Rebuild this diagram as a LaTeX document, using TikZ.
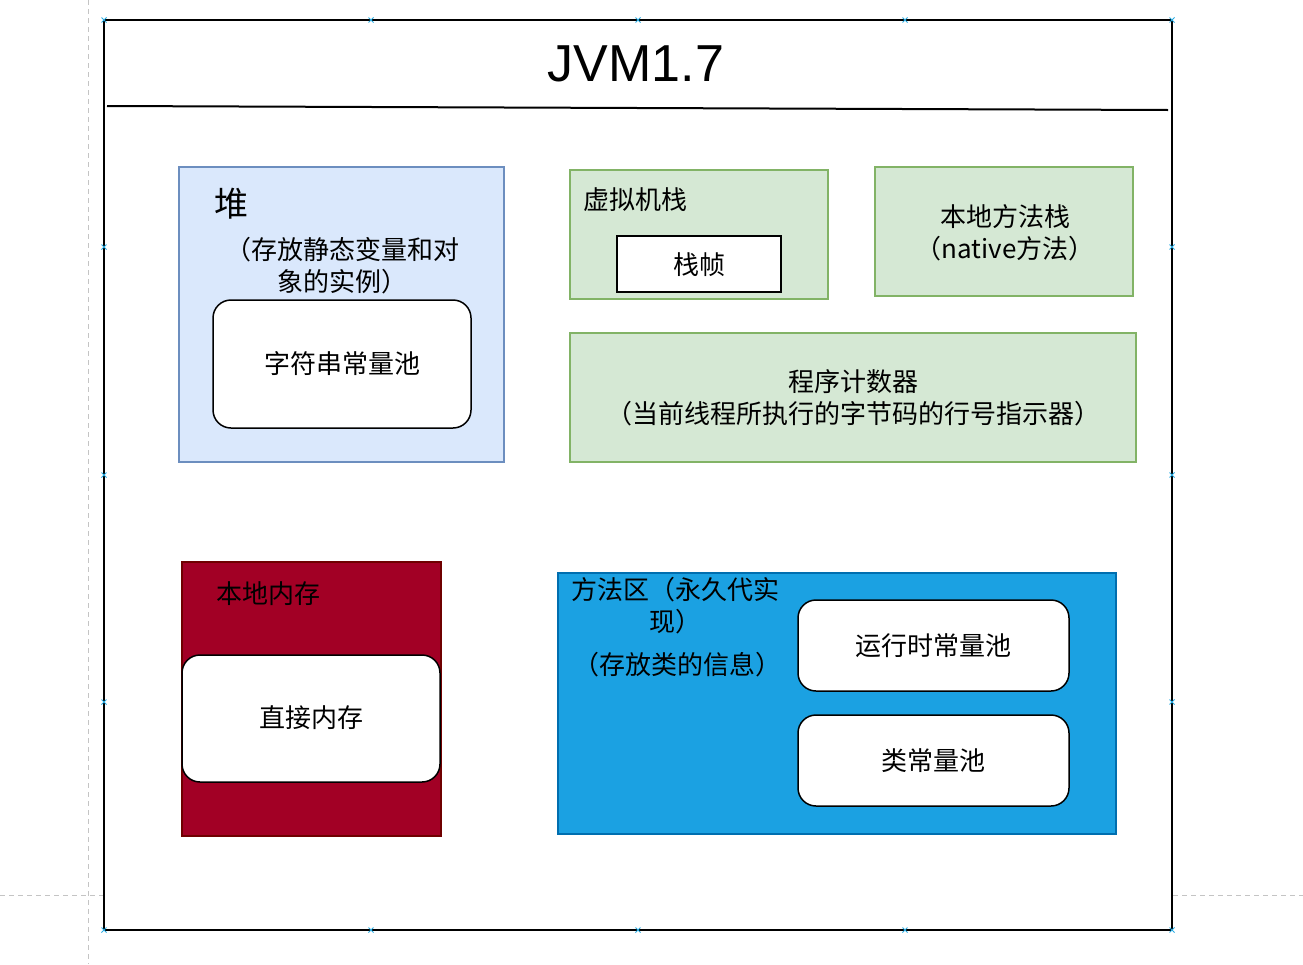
\documentclass[tikz,border=0pt]{standalone}
\usepackage{fontspec}
\setmainfont{Noto Sans CJK SC}
\newfontfamily\titlefont{Liberation Sans}
\definecolor{heapfill}{HTML}{DAE8FC}
\definecolor{heapdraw}{HTML}{6C8EBF}
\definecolor{greenfill}{HTML}{D5E8D4}
\definecolor{greendraw}{HTML}{82B366}
\definecolor{redfill}{HTML}{A20025}
\definecolor{reddraw}{HTML}{6F0000}
\definecolor{bluefill}{HTML}{1BA1E2}
\definecolor{bluedraw}{HTML}{006EAF}
\definecolor{markblue}{HTML}{29ABE2}
\definecolor{guidegray}{HTML}{C4C4C4}
\tikzset{
  box/.style={draw, line width=1.5pt, inner sep=0pt, outer sep=0pt},
  heapbox/.style={box, fill=heapfill, draw=heapdraw},
  greenbox/.style={box, fill=greenfill, draw=greendraw},
  redbox/.style={box, fill=redfill, draw=reddraw},
  bluebox/.style={box, fill=bluefill, draw=bluedraw},
  roundbox/.style={box, fill=white, draw=black, rounded corners=18pt},
  plainbox/.style={box, fill=white, draw=black},
  lbl/.style={inner sep=0pt, font=\fontsize{26}{32}\selectfont, align=center},
  guide/.style={draw=guidegray, line width=0.8pt, dash pattern=on 5pt off 4pt},
  marker/.style={draw=markblue, line width=1pt}
}
\begin{document}
\begin{tikzpicture}[x=1pt,y=-1pt]
\useasboundingbox (0,0) rectangle (1303,964);
% guide lines
\coordinate (g1) at (88,0); \coordinate (g2) at (88,964);
\coordinate (g3) at (0,895); \coordinate (g4) at (103,895);
\coordinate (g5) at (1173,895); \coordinate (g6) at (1303,895);
\draw[guide] (g1) -- (g2);
\draw[guide] (g3) -- (g4);
\draw[guide] (g5) -- (g6);
% main frame
\node[draw, line width=2pt, minimum width=1068pt, minimum height=910pt, inner sep=0pt] (frame) at (638,475) {};
\node[inner sep=0pt, font=\titlefont\fontsize{52}{60}\selectfont] (title) at (636,64) {JVM1.7};
\coordinate (tl) at (107,106); \coordinate (tr) at (1168,110);
\draw[line width=2pt] (tl) -- (tr);
% heap
\node[heapbox, minimum width=325pt, minimum height=295pt] (heap) at (341.5,314.5) {};
\node[inner sep=0pt, font=\fontsize{34}{40}\selectfont] (heapt) at (231,204) {堆};
\node[lbl] (heapd) at (342,266) {（存放静态变量和对\\象的实例）};
\node[roundbox, minimum width=258pt, minimum height=128pt] (strpool) at (342,364) {};
\node[lbl] (strpoolt) at (342,364) {字符串常量池};
% vm stack
\node[greenbox, minimum width=258pt, minimum height=129pt] (vms) at (699,234.5) {};
\node[lbl, anchor=west] (vmst) at (583,200) {虚拟机栈};
\node[plainbox, minimum width=164pt, minimum height=56pt] (frm) at (699,264) {};
\node[lbl] (frmt) at (699,265) {栈帧};
% native method stack
\node[greenbox, minimum width=258pt, minimum height=129pt] (nms) at (1004,231.5) {};
\node[lbl] (nmst) at (1005,233) {本地方法栈\\（native方法）};
% program counter
\node[greenbox, minimum width=566pt, minimum height=129pt] (pc) at (853,397.5) {};
\node[lbl] (pct) at (853,398) {程序计数器\\（当前线程所执行的字节码的行号指示器）};
% native memory
\node[redbox, minimum width=259pt, minimum height=274pt] (nm) at (311.5,699) {};
\node[lbl] (nmt) at (268,594) {本地内存};
\node[roundbox, minimum width=258pt, minimum height=127pt] (dm) at (311,718.5) {};
\node[lbl] (dmt) at (311,718) {直接内存};
% method area
\node[bluebox, minimum width=558pt, minimum height=261pt] (ma) at (837,703.5) {};
\node[lbl] (mat) at (675,606) {方法区（永久代实\\现）};
\node[lbl] (mad) at (677,665) {（存放类的信息）};
\node[roundbox, minimum width=271pt, minimum height=91pt] (rcp) at (933.5,645.5) {};
\node[lbl] (rcpt) at (933.5,645.5) {运行时常量池};
\node[roundbox, minimum width=271pt, minimum height=91pt] (ccp) at (933.5,760.5) {};
\node[lbl] (ccpt) at (933.5,760.5) {类常量池};
% markers
\foreach \mx/\my in {104/20,371/20,638/20,905/20,1172/20,104/930,371/930,638/930,905/930,1172/930,104/247,104/475,104/702,1172/247,1172/475,1172/702}{
  \draw[marker] (\mx-2.5,\my-2.5) -- (\mx+2.5,\my+2.5) (\mx-2.5,\my+2.5) -- (\mx+2.5,\my-2.5);
}
\end{tikzpicture}
\end{document}
